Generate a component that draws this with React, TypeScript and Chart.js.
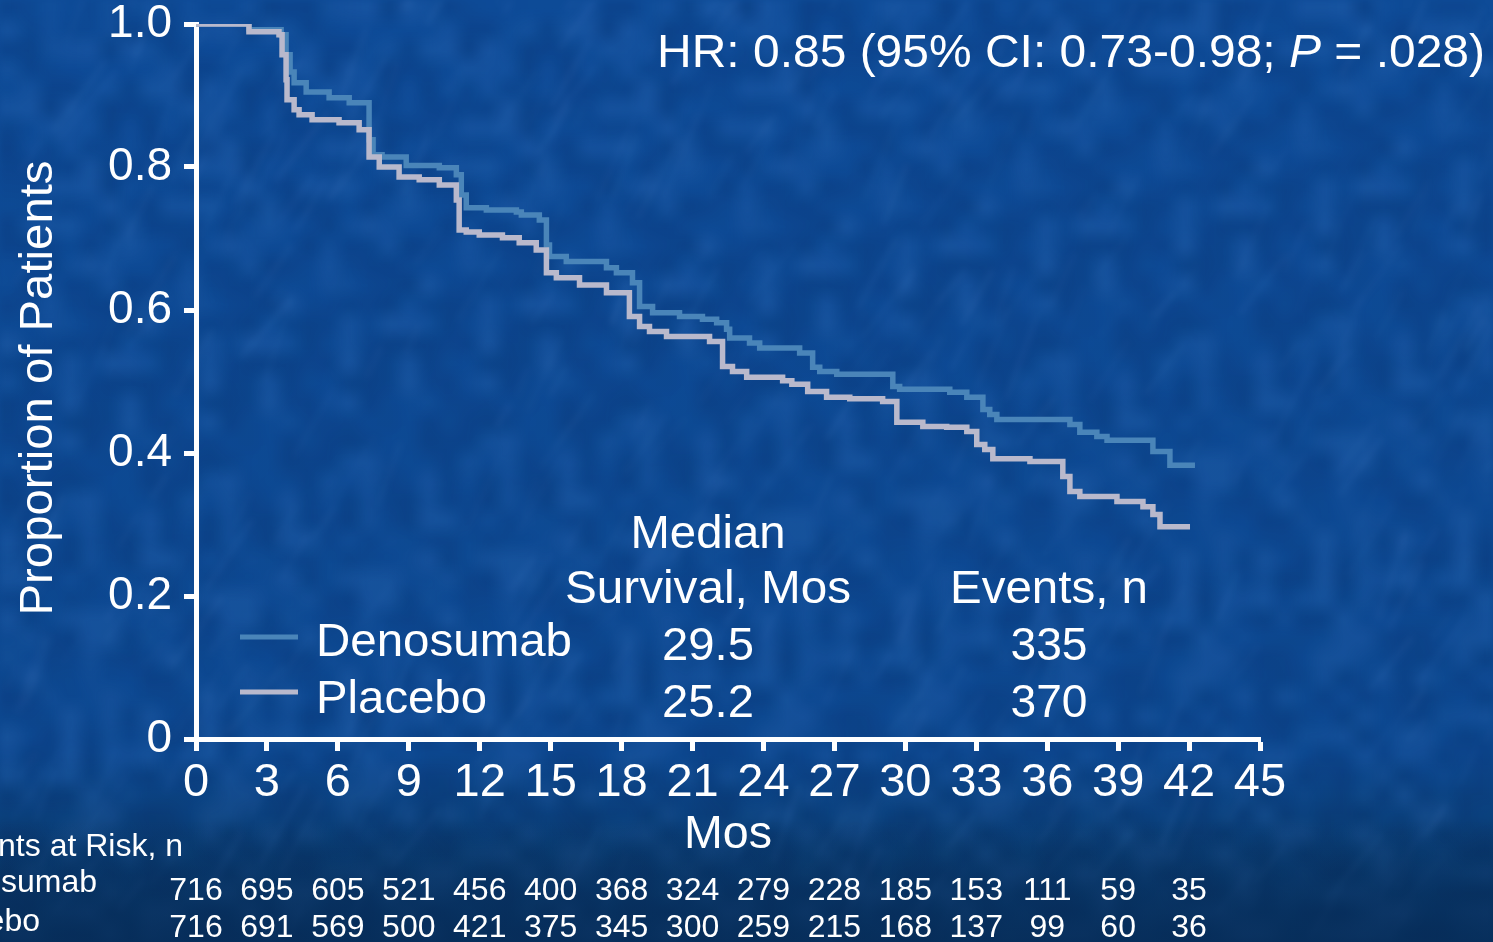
import React, { useEffect, useRef } from "react";
import { Chart, registerables } from "chart.js";

Chart.register(...registerables);

// Kaplan–Meier step points (months, proportion surviving)
const denosumabMonths = [0, 2.24, 3.6, 3.81, 3.98, 4.15, 4.66, 5.63, 6.48, 7.32, 7.49, 7.87, 8.89, 10.29, 11.01, 11.22, 11.43, 12.28, 13.55, 13.76, 14.52, 14.82, 14.95, 15.66, 17.36, 17.78, 18.46, 18.76, 19.31, 20.45, 21.42, 22.02, 22.44, 22.57, 23.41, 23.84, 25.53, 26.08, 26.38, 27.1, 29.47, 29.76, 31.88, 32.6, 33.28, 33.57, 33.87, 36.96, 37.38, 38.1, 38.53, 40.47, 41.19, 42.25];
const denosumabSurvival = [1.0, 0.992, 0.985, 0.957, 0.933, 0.918, 0.905, 0.897, 0.89, 0.838, 0.817, 0.814, 0.802, 0.799, 0.789, 0.761, 0.743, 0.74, 0.737, 0.733, 0.726, 0.691, 0.675, 0.668, 0.659, 0.652, 0.638, 0.605, 0.596, 0.591, 0.587, 0.582, 0.573, 0.561, 0.554, 0.547, 0.54, 0.52, 0.514, 0.51, 0.493, 0.489, 0.485, 0.478, 0.461, 0.454, 0.447, 0.44, 0.429, 0.423, 0.418, 0.402, 0.383, 0.383];

const placeboMonths = [0, 2.24, 3.51, 3.64, 3.81, 3.85, 4.15, 4.36, 4.91, 6.05, 6.9, 7.32, 7.75, 8.59, 9.44, 10.29, 11.01, 11.13, 11.43, 11.98, 12.96, 13.67, 14.39, 14.82, 15.24, 16.22, 17.36, 18.33, 18.76, 19.18, 19.9, 21.72, 22.27, 22.69, 23.29, 24.81, 25.2, 25.87, 26.67, 27.65, 29.04, 29.64, 30.74, 31.75, 32.6, 33.02, 33.36, 33.7, 35.27, 36.66, 36.96, 37.38, 38.95, 40.05, 40.47, 40.77, 42.04];
const placeboSurvival = [1.0, 0.989, 0.985, 0.957, 0.922, 0.894, 0.88, 0.873, 0.866, 0.862, 0.852, 0.814, 0.8, 0.786, 0.782, 0.775, 0.754, 0.712, 0.709, 0.705, 0.701, 0.694, 0.684, 0.652, 0.645, 0.635, 0.624, 0.591, 0.577, 0.57, 0.563, 0.556, 0.521, 0.514, 0.506, 0.501, 0.496, 0.486, 0.478, 0.476, 0.472, 0.443, 0.437, 0.436, 0.43, 0.412, 0.405, 0.392, 0.388, 0.367, 0.346, 0.339, 0.332, 0.325, 0.314, 0.297, 0.297];

// Patients at risk, every 3 months
const riskMonths = [0, 3, 6, 9, 12, 15, 18, 21, 24, 27, 30, 33, 36, 39, 42];
const denosumabAtRisk = [716, 695, 605, 521, 456, 400, 368, 324, 279, 228, 185, 153, 111, 59, 35];
const placeboAtRisk = [716, 691, 569, 500, 421, 375, 345, 300, 259, 215, 168, 137, 99, 60, 36];

const seriesNames = ["Denosumab", "Placebo"];
const medianSurvival = ["29.5", "25.2"];
const eventCounts = ["335", "370"];

const DENO_COLOR = "#4a85b9";
const PLACEBO_COLOR = "#b9b9cc";
const FONT = "'Liberation Sans', Arial, Helvetica, sans-serif";

function fitText(
  ctx: CanvasRenderingContext2D,
  text: string,
  x: number,
  y: number,
  width: number,
  size: number,
  align: CanvasTextAlign
) {
  ctx.save();
  ctx.font = `${size}px ${FONT}`;
  const w = ctx.measureText(text).width;
  ctx.translate(x, y);
  ctx.scale(width / w, 1);
  ctx.textAlign = align;
  ctx.textBaseline = "alphabetic";
  ctx.fillText(text, 0, 0);
  ctx.restore();
}

// deterministic hash used for the mottled slide backdrop
function hash(n: number) {
  const s = Math.sin(n * 12.9898 + 78.233) * 43758.5453;
  return s - Math.floor(s);
}

let textureCache: HTMLCanvasElement | null = null;
function buildTexture(width: number, height: number) {
  if (textureCache && textureCache.width === width && textureCache.height === height) return textureCache;
  const tex = document.createElement("canvas");
  tex.width = width;
  tex.height = height;
  const t = tex.getContext("2d") as CanvasRenderingContext2D;

  // soft blotches: a coarse grid of tones scaled up with smoothing
  const gw = 75;
  const gh = 48;
  const small = document.createElement("canvas");
  small.width = gw;
  small.height = gh;
  const s = small.getContext("2d") as CanvasRenderingContext2D;
  const img = s.createImageData(gw, gh);
  for (let j = 0; j < gh; j++) {
    for (let i = 0; i < gw; i++) {
      const v = hash(i * 131 + j * 917);
      const k = (j * gw + i) * 4;
      const light = v > 0.5;
      img.data[k] = light ? 90 : 0;
      img.data[k + 1] = light ? 150 : 20;
      img.data[k + 2] = light ? 230 : 60;
      img.data[k + 3] = Math.round(Math.abs(v - 0.5) * 2 * 40);
    }
  }
  s.putImageData(img, 0, 0);
  t.imageSmoothingEnabled = true;
  t.drawImage(small, 0, 0, width, height);

  // faint diagonal streaks
  t.lineCap = "round";
  for (let n = 0; n < 420; n++) {
    const x = hash(n * 3.1) * width;
    const y = hash(n * 7.7 + 1) * height;
    const len = 20 + hash(n * 5.3 + 2) * 70;
    const ang = -1.05 + (hash(n * 2.9 + 3) - 0.5) * 0.4;
    t.strokeStyle = `rgba(110, 160, 230, ${0.04 + hash(n * 1.7 + 4) * 0.06})`;
    t.lineWidth = 2 + hash(n * 4.1 + 5) * 4;
    t.beginPath();
    t.moveTo(x, y);
    t.lineTo(x + Math.cos(ang) * len, y + Math.sin(ang) * len);
    t.stroke();
  }
  textureCache = tex;
  return tex;
}

const backgroundPlugin = {
  id: "slideBackground",
  beforeDraw(chart: any) {
    const { ctx, width, height } = chart;
    ctx.save();
    const g = ctx.createLinearGradient(0, 0, 0, height);
    g.addColorStop(0, "#0e4b97");
    g.addColorStop(0.8, "#0d4890");
    g.addColorStop(0.9, "#0a3d74");
    g.addColorStop(1, "#07315e");
    ctx.fillStyle = g;
    ctx.fillRect(0, 0, width, height);
    ctx.filter = "blur(3px)";
    ctx.globalAlpha = 0.9;
    ctx.drawImage(buildTexture(width, height), 0, 0);
    ctx.filter = "none";
    ctx.globalAlpha = 1;
    // darker band at the bottom of the slide
    const b = ctx.createLinearGradient(0, 820, 0, height);
    b.addColorStop(0, "rgba(7, 45, 90, 0)");
    b.addColorStop(1, "rgba(7, 45, 90, 0.75)");
    ctx.fillStyle = b;
    ctx.fillRect(0, 820, width, height - 820);
    ctx.restore();
  },
};

const annotationPlugin = {
  id: "kmAnnotations",
  afterDraw(chart: any) {
    const { ctx } = chart;
    const xs = chart.scales.x;
    ctx.save();
    ctx.fillStyle = "#ffffff";

    // y-axis title
    ctx.save();
    ctx.translate(52, 388);
    ctx.rotate(-Math.PI / 2);
    fitText(ctx, "Proportion of Patients", 0, 0, 455, 46, "center");
    ctx.restore();

    // x-axis title
    fitText(ctx, "Mos", (xs.left + xs.right) / 2, 848, 88, 46, "center");

    // hazard ratio line with italic P
    const size = 46;
    const parts = [
      { t: "HR: 0.85 (95% CI: 0.73-0.98; ", italic: false },
      { t: "P", italic: true },
      { t: " = .028)", italic: false },
    ];
    let total = 0;
    const widths = parts.map((p) => {
      ctx.font = `${p.italic ? "italic " : ""}${size}px ${FONT}`;
      const w = ctx.measureText(p.t).width;
      total += w;
      return w;
    });
    ctx.save();
    ctx.translate(657, 67);
    ctx.scale(828 / total, 1);
    ctx.textAlign = "left";
    let cx = 0;
    parts.forEach((p, i) => {
      ctx.font = `${p.italic ? "italic " : ""}${size}px ${FONT}`;
      ctx.fillText(p.t, cx, 0);
      cx += widths[i];
    });
    ctx.restore();

    // median / events table with legend swatches
    fitText(ctx, "Median", 708, 548, 155, 46, "center");
    fitText(ctx, "Survival, Mos", 708, 603, 286, 46, "center");
    fitText(ctx, "Events, n", 1049, 603, 198, 46, "center");
    const rowBase = [660, 717];
    const nameWidths = [256, 171];
    const colors = [DENO_COLOR, PLACEBO_COLOR];
    const lineY = [637, 692];
    for (let i = 0; i < 2; i++) {
      ctx.strokeStyle = colors[i];
      ctx.lineWidth = 5;
      ctx.beginPath();
      ctx.moveTo(240, lineY[i]);
      ctx.lineTo(298, lineY[i]);
      ctx.stroke();
      fitText(ctx, seriesNames[i], 316, rowBase[i] - 4, nameWidths[i], 46, "left");
      fitText(ctx, medianSurvival[i], 708, rowBase[i], 92, 46, "center");
      fitText(ctx, eventCounts[i], 1049, rowBase[i], 77, 46, "center");
    }

    // patients at risk table
    ctx.font = `32px ${FONT}`;
    ctx.textBaseline = "alphabetic";
    ctx.textAlign = "right";
    ctx.fillText("Patients at Risk, n", 183, 856);
    ctx.fillText(seriesNames[0], 97, 892);
    ctx.fillText(seriesNames[1], 40, 931);
    ctx.textAlign = "center";
    riskMonths.forEach((m, i) => {
      const px = xs.getPixelForValue(m);
      ctx.fillText(String(denosumabAtRisk[i]), px, 900);
      ctx.fillText(String(placeboAtRisk[i]), px, 937);
    });
    ctx.restore();
  },
};

export default function App() {
  const canvasRef = useRef<HTMLCanvasElement | null>(null);

  useEffect(() => {
    document.body.style.margin = "0";
    const canvas = canvasRef.current;
    if (!canvas) return;
    const toPoints = (xs: number[], ys: number[]) => xs.map((x, i) => ({ x, y: ys[i] }));

    const chart = new Chart(canvas, {
      type: "line",
      data: {
        datasets: [
          {
            label: seriesNames[0],
            data: toPoints(denosumabMonths, denosumabSurvival),
            borderColor: DENO_COLOR,
            borderWidth: 5.5,
            stepped: "before",
            pointRadius: 0,
            fill: false,
            order: 2,
          },
          {
            label: seriesNames[1],
            data: toPoints(placeboMonths, placeboSurvival),
            borderColor: PLACEBO_COLOR,
            borderWidth: 5.5,
            stepped: "before",
            pointRadius: 0,
            fill: false,
            order: 1,
          },
        ],
      },
      options: {
        animation: false,
        responsive: false,
        devicePixelRatio: 1,
        parsing: false as any,
        layout: { padding: { left: 0, right: 233, top: 24, bottom: 0 } },
        plugins: {
          legend: { display: false },
          tooltip: { enabled: false },
        },
        elements: { line: { borderCapStyle: "butt", borderJoinStyle: "miter" } },
        scales: {
          x: {
            type: "linear",
            min: 0,
            max: 45,
            afterFit: (s: any) => {
              s.height = 203;
              s.paddingLeft = 0;
              s.paddingRight = 0;
            },
            ticks: {
              stepSize: 3,
              color: "#ffffff",
              font: { family: FONT, size: 47 },
              padding: 4,
              maxRotation: 0,
              autoSkip: false,
            },
            grid: {
              drawOnChartArea: false,
              drawTicks: true,
              tickLength: 12,
              tickWidth: 5,
              tickColor: "#ffffff",
              color: "#ffffff",
            },
            border: { display: true, color: "#ffffff", width: 5 },
          },
          y: {
            type: "linear",
            min: 0,
            max: 1,
            afterFit: (s: any) => {
              s.width = 196;
              s.paddingTop = 0;
              s.paddingBottom = 0;
            },
            ticks: {
              stepSize: 0.2,
              color: "#ffffff",
              font: { family: FONT, size: 46 },
              padding: 12,
              callback: (v: any) => (Number(v) === 0 ? "0" : Number(v).toFixed(1)),
            },
            grid: {
              drawOnChartArea: false,
              drawTicks: true,
              tickLength: 12,
              tickWidth: 5,
              tickColor: "#ffffff",
              color: "#ffffff",
            },
            border: { display: true, color: "#ffffff", width: 5 },
          },
        },
      },
      plugins: [backgroundPlugin, annotationPlugin],
    } as any);

    return () => chart.destroy();
  }, []);

  return (
    <div style={{ position: "fixed", left: 0, top: 0, width: 1493, height: 942 }}>
      <canvas ref={canvasRef} width={1493} height={942} />
    </div>
  );
}
